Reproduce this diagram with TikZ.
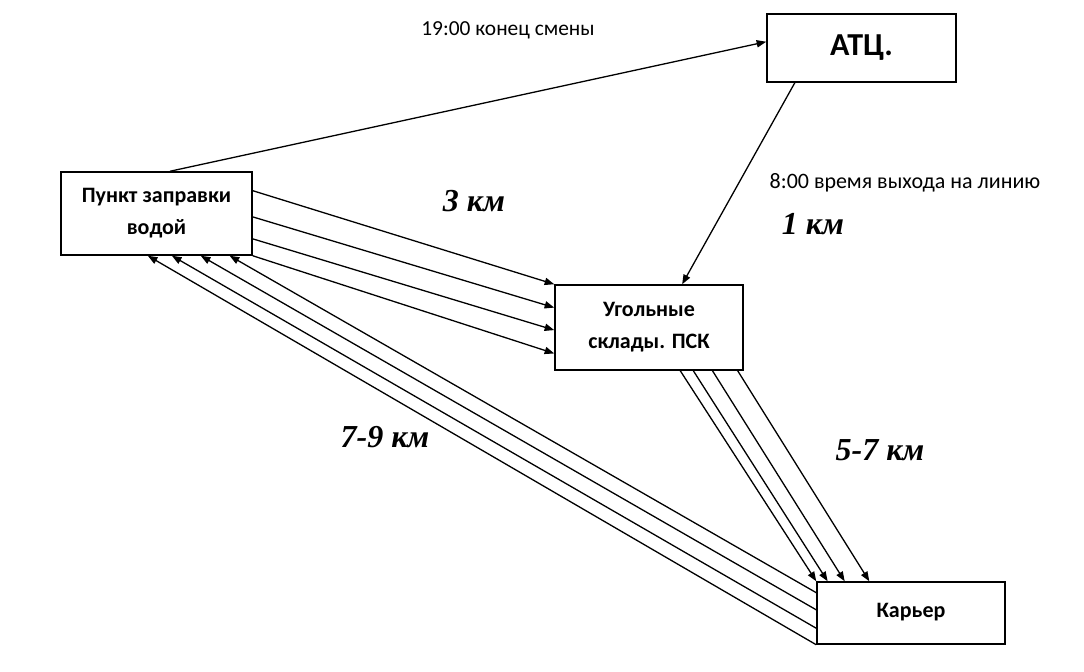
\documentclass[tikz,border=0pt]{standalone}
\usepackage{fontspec}
\setmainfont{Carlito}
\newfontfamily\distfont{Liberation Serif}
\usetikzlibrary{
    arrows.meta,
    calc,
}

\begin{document}
\begin{tikzpicture}[
        x=0.5pt, y=-0.5pt,
        box/.style={rectangle, draw, line width=0.75pt, inner sep=0pt,
            align=center, font=\fontsize{11}{16}\selectfont\bfseries},
        rel/.style={-{Triangle[length=4.8pt,width=3.6pt]}, line width=0.65pt},
        note/.style={font=\fontsize{10.7}{12}\selectfont},
        dist/.style={font=\distfont\fontsize{16}{18}\selectfont\bfseries\itshape},
    ]
        \useasboundingbox[fill=white] (0,0) rectangle (1084,671);

        % Places
        \node[box, minimum width=94.5pt, minimum height=34pt,
            font=\fontsize{16}{18}\selectfont\bfseries] (atc) at (861.5,48) {АТЦ.};
        \node[box, minimum width=95.5pt, minimum height=41.5pt] (punkt) at (156.5,213.5)
            {Пункт заправки\\водой};
        \node[box, minimum width=94pt, minimum height=42.5pt] (ugol) at (649,327.5)
            {Угольные\\склады. ПСК};
        \node[box, minimum width=94pt, minimum height=31pt] (karer) at (911,613)
            {\raisebox{3pt}{Карьер}};

        % Times and distances
        \node[note] (endshift) at (508,30) {19:00 конец смены};
        \node[note, font=\fontsize{11}{12}\selectfont] (startshift) at (905,183)
            {8:00 время выхода на линию};
        \node[dist] (d3) at (474,201) {3 км};
        \node[dist] (d1) at (813,224) {1 км};
        \node[dist] (d79) at (385,437) {7-9 км};
        \node[dist] (d57) at (880,450) {5-7 км};

        % Depot runs
        \draw[rel] ($(punkt.north west)!0.57!(punkt.north east)$) -- ($(atc.north west)!0.41!(atc.south west)$);
        \draw[rel] ($(atc.south west)!0.15!(atc.south east)$) -- ($(ugol.north west)!0.675!(ugol.north east)$);

        % Water point -> coal stores
        \draw[rel] ($(punkt.north east)!0.23!(punkt.south east)$) -- ($(ugol.north west)!0.0!(ugol.south west)$);
        \draw[rel] ($(punkt.north east)!0.54!(punkt.south east)$) -- ($(ugol.north west)!0.27!(ugol.south west)$);
        \draw[rel] ($(punkt.north east)!0.80!(punkt.south east)$) -- ($(ugol.north west)!0.53!(ugol.south west)$);
        \draw[rel] (punkt.south east) -- ($(ugol.north west)!0.80!(ugol.south west)$);

        % Coal stores -> quarry
        \draw[rel] ($(ugol.south west)!0.665!(ugol.south east)$) -- (karer.north west);
        \draw[rel] ($(ugol.south west)!0.734!(ugol.south east)$) -- ($(karer.north west)!0.06!(karer.north east)$);
        \draw[rel] ($(ugol.south west)!0.835!(ugol.south east)$) -- ($(karer.north west)!0.15!(karer.north east)$);
        \draw[rel] ($(ugol.south west)!0.968!(ugol.south east)$) -- ($(karer.north west)!0.28!(karer.north east)$);

        % Quarry -> water point
        \draw[rel] ($(karer.north west)!0.18!(karer.south west)$) -- ($(punkt.south west)!0.88!(punkt.south east)$);
        \draw[rel] ($(karer.north west)!0.45!(karer.south west)$) -- ($(punkt.south west)!0.73!(punkt.south east)$);
        \draw[rel] ($(karer.north west)!0.74!(karer.south west)$) -- ($(punkt.south west)!0.58!(punkt.south east)$);
        \draw[rel] (karer.south west) -- ($(punkt.south west)!0.455!(punkt.south east)$);
    \end{tikzpicture}
\end{document}
